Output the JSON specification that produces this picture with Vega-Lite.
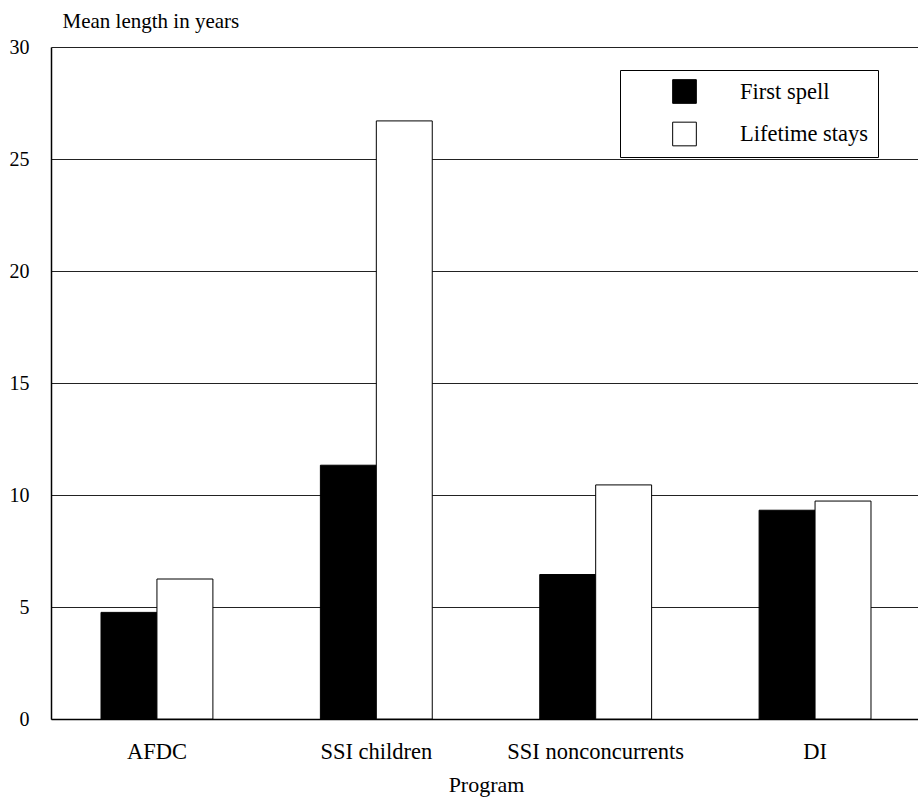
{
  "$schema": "https://vega.github.io/schema/vega-lite/v6.json",
  "autosize": {"type": "none"},
  "padding": {"left": 51, "top": 47, "right": 0, "bottom": 79},
  "width": 870,
  "height": 672,
  "background": "white",
  "config": {
    "font": "Liberation Serif",
    "view": {"stroke": null},
    "axis": {"labelFont": "Liberation Serif", "titleFont": "Liberation Serif", "labelColor": "black", "titleColor": "black"}
  },
  "data": {
    "values": [
      {"program": "AFDC", "measure": "First spell", "years": 4.76},
      {"program": "AFDC", "measure": "Lifetime stays", "years": 6.25},
      {"program": "SSI children", "measure": "First spell", "years": 11.33},
      {"program": "SSI children", "measure": "Lifetime stays", "years": 26.7},
      {"program": "SSI nonconcurrents", "measure": "First spell", "years": 6.45},
      {"program": "SSI nonconcurrents", "measure": "Lifetime stays", "years": 10.45},
      {"program": "DI", "measure": "First spell", "years": 9.32},
      {"program": "DI", "measure": "Lifetime stays", "years": 9.73}
    ]
  },
  "mark": {"type": "bar", "stroke": "black", "strokeWidth": 1},
  "encoding": {
    "x": {
      "field": "program",
      "type": "nominal",
      "sort": ["AFDC", "SSI children", "SSI nonconcurrents", "DI"],
      "scale": {"paddingInner": 0.49, "paddingOuter": 0.228},
      "axis": {
        "title": "Program",
        "labelAngle": 0,
        "labelFontSize": 22.5,
        "titleFontSize": 22,
        "titleFontWeight": "normal",
        "ticks": false,
        "labelPadding": 21,
        "titlePadding": 12,
        "titleAnchor": "middle",
        "domainColor": "black",
        "domainWidth": 1.5
      }
    },
    "xOffset": {
      "field": "measure",
      "type": "nominal",
      "sort": ["First spell", "Lifetime stays"],
      "scale": {"paddingInner": 0, "paddingOuter": 0}
    },
    "y": {
      "field": "years",
      "type": "quantitative",
      "scale": {"domain": [0, 30], "nice": false},
      "axis": {
        "title": "Mean length in years",
        "titleAngle": 0,
        "titleAlign": "left",
        "titleBaseline": "alphabetic",
        "titleX": 11,
        "titleY": -20,
        "titleFontSize": 21,
        "titleFontWeight": "normal",
        "values": [0, 5, 10, 15, 20, 25, 30],
        "labelFontSize": 20,
        "labelPadding": 22,
        "ticks": false,
        "grid": true,
        "gridColor": "#222",
        "gridWidth": 1.2,
        "domainColor": "black",
        "domainWidth": 1.5
      }
    },
    "fill": {
      "field": "measure",
      "type": "nominal",
      "sort": ["First spell", "Lifetime stays"],
      "scale": {"domain": ["First spell", "Lifetime stays"], "range": ["black", "white"]},
      "legend": {
        "title": null,
        "orient": "none",
        "legendX": 569,
        "legendY": 23,
        "padding": 9,
        "fillColor": "white",
        "strokeColor": "black",
        "symbolType": "square",
        "symbolSize": 560,
        "symbolStrokeColor": "black",
        "symbolStrokeWidth": 1,
        "symbolOffset": 43,
        "labelOffset": 43,
        "labelFontSize": 22.5,
        "labelFont": "Liberation Serif",
        "labelColor": "black",
        "labelExpr": "datum.label + '\u00a0\u00a0\u00a0\u00a0\u00a0'",
        "rowPadding": 13.5
      }
    }
  }
}
